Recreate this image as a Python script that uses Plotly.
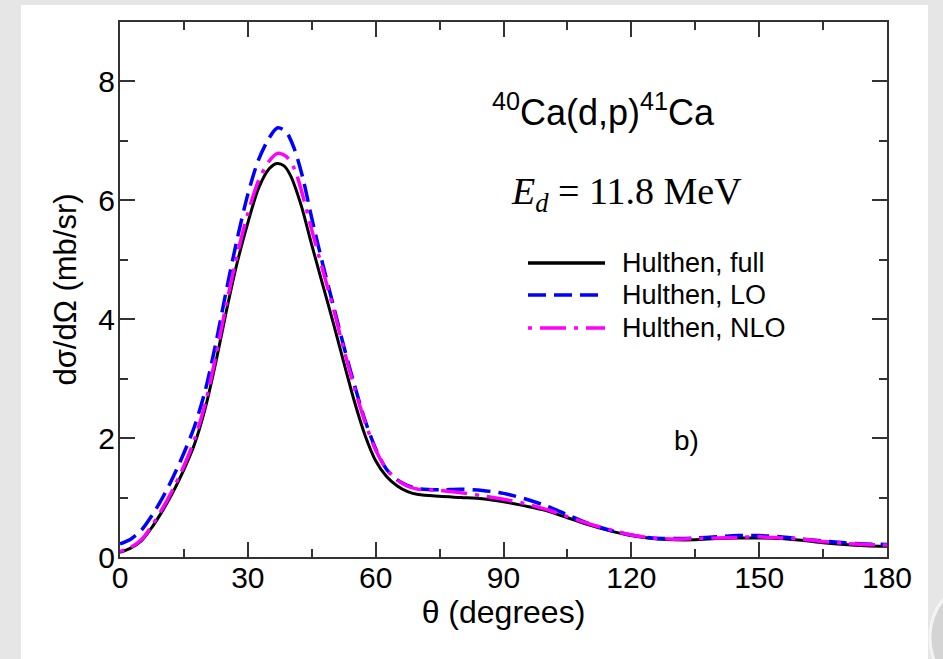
import plotly.graph_objects as go

# ---- data ----
theta_full = [0, 2.5, 5, 7.5, 10, 12.5, 15, 17.5, 20, 22.5, 25, 27.5, 30, 32.5, 35, 36.8, 38.5, 40,
              42.5, 45, 47.5, 50, 52.5, 55, 57.5, 60, 62.5, 65, 67.5, 70, 75, 80, 85, 90, 95, 100,
              105, 110, 115, 120, 125, 130, 135, 140, 145, 150, 155, 160, 165, 170, 175, 180]
full = [0.08, 0.15, 0.27, 0.5, 0.78, 1.1, 1.47, 1.9, 2.5, 3.28, 4.15, 4.95, 5.62, 6.2, 6.53, 6.62, 6.58, 6.42,
        5.92, 5.25, 4.6, 3.95, 3.28, 2.62, 2.05, 1.62, 1.36, 1.2, 1.1, 1.05, 1.02, 1.0, 0.98, 0.93, 0.86, 0.78,
        0.66, 0.54, 0.44, 0.36, 0.31, 0.29, 0.29, 0.31, 0.32, 0.32, 0.31, 0.28, 0.24, 0.21, 0.19, 0.18]

theta_lo = [0, 2.5, 5, 7.5, 10, 12.5, 15, 17.5, 20, 22.5, 25, 27.5, 30, 32.5, 35, 37, 39, 41,
            43, 45, 47.5, 50, 52.5, 55, 57.5, 60, 62.5, 65, 67.5, 70, 75, 80, 85, 90, 95, 100,
            105, 110, 115, 120, 125, 130, 135, 140, 145, 150, 155, 160, 165, 170, 175, 180]
lo = [0.22, 0.3, 0.45, 0.7, 1.0, 1.35, 1.75, 2.2, 2.8, 3.6, 4.5, 5.35, 6.1, 6.68, 7.05, 7.22, 7.15, 6.85,
      6.35, 5.7, 4.95, 4.25, 3.55, 2.9, 2.3, 1.82, 1.48, 1.3, 1.2, 1.15, 1.13, 1.14, 1.12, 1.07, 0.98, 0.86,
      0.71, 0.56, 0.45, 0.37, 0.32, 0.31, 0.32, 0.34, 0.36, 0.36, 0.34, 0.3, 0.27, 0.24, 0.22, 0.21]

theta_nlo = [0, 2.5, 5, 7.5, 10, 12.5, 15, 17.5, 20, 22.5, 25, 27.5, 30, 32.5, 35, 37, 39, 41,
             43, 45, 47.5, 50, 52.5, 55, 57.5, 60, 62.5, 65, 67.5, 70, 75, 80, 85, 90, 95, 100,
             105, 110, 115, 120, 125, 130, 135, 140, 145, 150, 155, 160, 165, 170, 175, 180]
nlo = [0.09, 0.16, 0.29, 0.53, 0.82, 1.15, 1.53, 1.98, 2.58, 3.38, 4.27, 5.08, 5.78, 6.33, 6.66, 6.79, 6.74, 6.52,
       6.05, 5.5, 4.85, 4.2, 3.5, 2.85, 2.27, 1.8, 1.48, 1.3, 1.19, 1.14, 1.12, 1.08, 1.03, 0.97, 0.9, 0.8,
       0.68, 0.56, 0.46, 0.37, 0.32, 0.3, 0.31, 0.32, 0.33, 0.34, 0.32, 0.3, 0.26, 0.23, 0.21, 0.2]

series_names = ["Hulthen, full", "Hulthen, LO", "Hulthen, NLO"]
x_ticks = [0, 30, 60, 90, 120, 150, 180]
y_ticks = [0, 2, 4, 6, 8]

# ---- styles ----
FONT = "Liberation Sans, Arial, sans-serif"
styles = [
    dict(color="black", width=3, dash="solid"),
    dict(color="#0000ff", width=3.5, dash="18px,8px"),
    dict(color="#ff00ff", width=3.5, dash="4px,8px,26px,8px"),
]

fig = go.Figure()
for xs, ys, name, st in zip([theta_full, theta_lo, theta_nlo], [full, lo, nlo], series_names, styles):
    fig.add_trace(go.Scatter(x=xs, y=ys, mode="lines", name=name,
                             line=dict(shape="spline", smoothing=0.8, **st),
                             showlegend=False))

# plot-area geometry (pixels) for converting layout decorations
L, R, T, B = 120, 887, 22, 557
W, H = R - L, B - T
def px(x): return (x - L) / W
def py(y): return (B - y) / H

shapes = [
    # white slide panel
    dict(type="rect", xref="paper", yref="paper", x0=px(21), x1=px(928), y0=py(662), y1=py(5),
         fillcolor="white", line=dict(width=0), layer="below"),
    # decorative circle of the slide (bottom right)
    dict(type="circle", xref="paper", yref="paper", x0=px(930), x1=px(1060), y0=py(700), y1=py(575),
         fillcolor="#d4d4d4", line=dict(color="#f4f4f4", width=3), layer="below"),
]
annotations = []
# manual legend (long line samples as in reference)
leg_rows = [263, 295, 328]
for name, st, yy in zip(series_names, styles, leg_rows):
    shapes.append(dict(type="line", xref="paper", yref="paper", x0=px(528), x1=px(605),
                       y0=py(yy), y1=py(yy), line=dict(color=st["color"], width=3.5, dash=st["dash"])))
    annotations.append(dict(text=name, xref="paper", yref="paper", x=px(620), y=py(yy),
                            xanchor="left", yanchor="middle", showarrow=False,
                            font=dict(family=FONT, size=27, color="black")))

annotations += [
    dict(text="<sup>40</sup>Ca(d,p)<sup>41</sup>Ca", xref="paper", yref="paper", x=px(603), y=py(110),
         xanchor="center", yanchor="middle", showarrow=False,
         font=dict(family=FONT, size=36, color="black")),
    dict(text="<i>E</i><sub><i>d</i></sub> = 11.8 MeV", xref="paper", yref="paper", x=px(626), y=py(194),
         xanchor="center", yanchor="middle", showarrow=False,
         font=dict(family="Liberation Serif, DejaVu Serif, serif", size=38, color="black")),
    dict(text="b)", xref="paper", yref="paper", x=px(686), y=py(440),
         xanchor="center", yanchor="middle", showarrow=False,
         font=dict(family=FONT, size=28, color="black")),
]

axis_common = dict(showline=True, linecolor="#333333", linewidth=2, mirror="ticks",
                   ticks="inside", ticklen=15, tickwidth=2, tickcolor="#333333",
                   showgrid=False, zeroline=False,
                   tickfont=dict(family=FONT, size=30, color="black"))

fig.update_layout(
    width=943, height=659,
    margin=dict(l=L, r=943 - R, t=T, b=659 - B),
    paper_bgcolor="#e6e6e6", plot_bgcolor="white",
    shapes=shapes, annotations=annotations,
    xaxis=dict(range=[0, 180], tickvals=x_ticks, ticktext=[str(v) for v in x_ticks],
               minor=dict(dtick=15, ticks="inside", ticklen=8, tickwidth=2, tickcolor="#333333"),
               ticklabelstandoff=-7,
               title=dict(text="θ (degrees)", font=dict(family=FONT, size=32, color="black"), standoff=0),
               **axis_common),
    yaxis=dict(range=[0, 9], tickvals=y_ticks, ticktext=[str(v) for v in y_ticks],
               minor=dict(dtick=1, ticks="inside", ticklen=8, tickwidth=2, tickcolor="#333333"),
               ticklabelstandoff=-3,
               title=dict(text="dσ/dΩ (mb/sr)", font=dict(family=FONT, size=31, color="black"), standoff=12),
               **axis_common),
)

fig.write_html("out.html")
